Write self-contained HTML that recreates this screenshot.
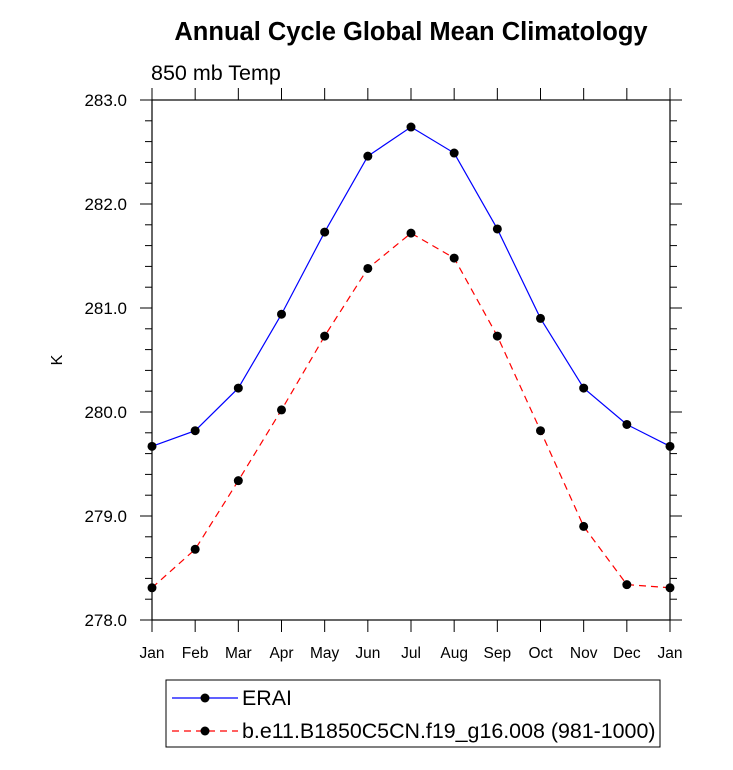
<!DOCTYPE html>
<html><head><meta charset="utf-8"><style>body{margin:0;background:#fff}svg{display:block;font-family:"Liberation Sans",sans-serif}</style></head>
<body>
<svg id="chart" width="733" height="770">
<text x="411" y="40" text-anchor="middle" font-size="25.5" font-weight="bold">Annual Cycle Global Mean Climatology</text>
<text x="151" y="80" font-size="21.5">850 mb Temp</text>
<text x="62" y="360" font-size="16" text-anchor="middle" transform="rotate(-90 62 360)">K</text>
<g id="axes"></g><g id="series"></g>
<g>
<rect x="166" y="680" width="494" height="67" fill="#fff" stroke="#000" stroke-width="1"/>
<line x1="172" y1="698" x2="238" y2="698" stroke="#00f" stroke-width="1.2"/>
<circle cx="205" cy="698" r="4.5" fill="#000"/>
<text x="242" y="705" font-size="21.4">ERAI</text>
<line x1="172" y1="731" x2="238" y2="731" stroke="#f00" stroke-width="1.2" stroke-dasharray="7,5"/>
<circle cx="205" cy="731" r="4.5" fill="#000"/>
<text x="242" y="738" font-size="21.4">b.e11.B1850C5CN.f19_g16.008 (981-1000)</text>
</g>
</svg>
<script>
const months=["Jan","Feb","Mar","Apr","May","Jun","Jul","Aug","Sep","Oct","Nov","Dec","Jan"];
const yTicks=[278,279,280,281,282,283];
const erai=[279.67,279.82,280.23,280.94,281.73,282.46,282.74,282.49,281.76,280.90,280.23,279.88,279.67];
const model=[278.31,278.68,279.34,280.02,280.73,281.38,281.72,281.48,280.73,279.82,278.90,278.34,278.31];
const L=152,R=670,T=100,B=620,ymin=278,ymax=283;
const xs=i=>L+(R-L)*i/12, ys=v=>B-(v-ymin)/(ymax-ymin)*(B-T);
const NS="http://www.w3.org/2000/svg";
function mk(t,a,p){const e=document.createElementNS(NS,t);for(const k in a)e.setAttribute(k,a[k]);p.appendChild(e);return e;}
const ax=document.getElementById('axes');
const fr=mk('rect',{x:L,y:T,width:R-L,height:B-T,fill:'none',stroke:'#000','stroke-width':1.2},ax);


months.forEach((m,i)=>{const x=xs(i);
mk('line',{x1:x,y1:B,x2:x,y2:B+12,stroke:'#000'},ax);
mk('line',{x1:x,y1:T,x2:x,y2:T-12,stroke:'#000'},ax);
const t=mk('text',{x:x,y:B+38,'text-anchor':'middle','font-size':15.5},ax);t.textContent=m;

});
for(let v=ymin;v<=ymax+1e-9;v+=0.2){const y=ys(v);const maj=Math.abs(v-Math.round(v))<1e-6;const len=maj?12:7;
mk('line',{x1:L,y1:y,x2:L-len,y2:y,stroke:'#000'},ax);
mk('line',{x1:R,y1:y,x2:R+len,y2:y,stroke:'#000'},ax);}
yTicks.forEach(v=>{const t=mk('text',{x:L-25,y:ys(v)+6,'text-anchor':'end','font-size':17},ax);t.textContent=v.toFixed(1);

});
const sg=document.getElementById('series');
function draw(d,col,dash,name){const p=mk('polyline',{points:d.map((v,i)=>xs(i)+','+ys(v)).join(' '),fill:'none',stroke:col,'stroke-width':1.2,'stroke-dasharray':dash},sg);


d.forEach((v,i)=>{const c=mk('circle',{cx:xs(i),cy:ys(v),r:4.5,fill:'#000'},sg);

});}
draw(erai,'#00f','none','erai');
draw(model,'#f00','7,5','model');
</script>
</body></html>
